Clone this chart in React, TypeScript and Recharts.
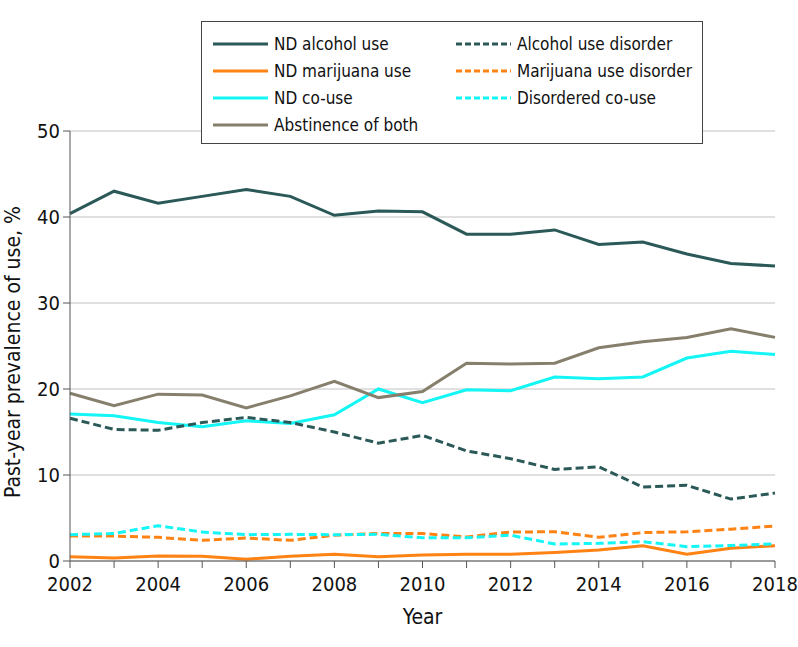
import { LineChart, Line, XAxis, YAxis, CartesianGrid, Legend } from 'recharts';

const years = [2002, 2003, 2004, 2005, 2006, 2007, 2008, 2009, 2010, 2011, 2012, 2013, 2014, 2015, 2016, 2017, 2018];

const ndAlcohol = [40.4, 43.0, 41.6, 42.4, 43.2, 42.4, 40.2, 40.7, 40.6, 38.0, 38.0, 38.5, 36.8, 37.1, 35.7, 34.6, 34.3];
const ndMarijuana = [0.5, 0.35, 0.58, 0.55, 0.2, 0.55, 0.78, 0.5, 0.7, 0.78, 0.78, 1.0, 1.28, 1.78, 0.8, 1.47, 1.78];
const ndCoUse = [17.1, 16.9, 16.1, 15.6, 16.3, 16.0, 17.0, 20.0, 18.4, 19.9, 19.8, 21.4, 21.2, 21.4, 23.6, 24.4, 24.0];
const abstinence = [19.5, 18.05, 19.4, 19.3, 17.8, 19.2, 20.9, 19.0, 19.7, 23.0, 22.9, 23.0, 24.8, 25.5, 26.0, 27.0, 26.0];
const alcoholDisorder = [16.6, 15.3, 15.2, 16.1, 16.7, 16.1, 15.0, 13.7, 14.6, 12.8, 11.9, 10.65, 10.95, 8.6, 8.8, 7.2, 7.9];
const marijuanaDisorder = [2.9, 2.9, 2.75, 2.4, 2.67, 2.4, 3.0, 3.2, 3.2, 2.8, 3.37, 3.4, 2.75, 3.3, 3.4, 3.7, 4.07];
const disorderedCoUse = [3.06, 3.2, 4.1, 3.37, 3.06, 3.1, 3.06, 3.1, 2.7, 2.7, 3.0, 1.97, 2.05, 2.25, 1.67, 1.8, 2.0];

const yTicks = [0, 10, 20, 30, 40, 50];

const FONT = "'DejaVu Sans Condensed', 'DejaVu Sans', sans-serif";

const series = [
  { key: 'ndAlcohol', name: 'ND alcohol use', color: '#2a5957', dash: undefined, values: ndAlcohol },
  { key: 'ndMarijuana', name: 'ND marijuana use', color: '#ff8214', dash: undefined, values: ndMarijuana },
  { key: 'ndCoUse', name: 'ND co-use', color: '#14f5f5', dash: undefined, values: ndCoUse },
  { key: 'abstinence', name: 'Abstinence of both', color: '#857f6c', dash: undefined, values: abstinence },
  { key: 'alcoholDisorder', name: 'Alcohol use disorder', color: '#2a5957', dash: '8 4', values: alcoholDisorder },
  { key: 'marijuanaDisorder', name: 'Marijuana use disorder', color: '#ff8214', dash: '8 4', values: marijuanaDisorder },
  { key: 'disorderedCoUse', name: 'Disordered co-use', color: '#14f5f5', dash: '8 4', values: disorderedCoUse },
];

const data = years.map((year, i) => {
  const row: Record<string, number> = { year };
  series.forEach((s) => {
    row[s.key] = s.values[i];
  });
  return row;
});

function LegendBox() {
  const left = series.slice(0, 4);
  const right = series.slice(4);
  const item = (s: typeof series[number], col: number, row: number) => (
    <div
      key={s.key}
      style={{ position: 'absolute', left: col === 0 ? 11 : 254, top: 8 + row * 27.3, height: 27, display: 'flex', alignItems: 'center' }}
    >
      <svg width={55} height={6} style={{ display: 'block' }}>
        <line x1={0} y1={3} x2={55} y2={3} stroke={s.color} strokeWidth={3} strokeDasharray={s.dash ? '6 3' : undefined} />
      </svg>
      <span style={{ marginLeft: 6, fontSize: 17, color: '#111', whiteSpace: 'nowrap' }}>{s.name}</span>
    </div>
  );
  return (
    <div style={{ position: 'relative', width: 502, height: 123, border: '1px solid #444', background: '#fff', fontFamily: FONT, boxSizing: 'border-box' }}>
      {left.map((s, i) => item(s, 0, i))}
      {right.map((s, i) => item(s, 1, i))}
    </div>
  );
}

export default function App() {
  return (
    <div style={{ position: 'absolute', left: 0, top: 0, width: 798, height: 647, background: '#fff' }}>
      <LineChart width={798} height={647} data={data} margin={{ top: 131, right: 23, bottom: 26, left: 0 }} style={{ fontFamily: FONT }}>
        <CartesianGrid vertical={false} stroke="#d6d6d6" strokeWidth={1.5} />
        <XAxis
          dataKey="year"
          type="number"
          domain={[2002, 2018]}
          ticks={years}
          interval={0}
          height={60}
          tickFormatter={(v: number) => (v % 2 === 0 ? String(v) : '')}
          stroke="#555"
          tickSize={7}
          tickMargin={9}
          tick={{ fill: '#111', fontSize: 20 }}
          label={{ value: 'Year', position: 'insideBottom', offset: -3, fill: '#111', fontSize: 21 }}
        />
        <YAxis
          domain={[0, 50]}
          ticks={yTicks}
          width={70}
          stroke="#555"
          tickSize={7}
          tickMargin={3}
          tick={{ fill: '#111', fontSize: 20 }}
          label={{ value: 'Past-year prevalence of use, %', angle: -90, position: 'center', dx: -22, dy: 6, fill: '#111', fontSize: 21 }}
        />
        <Legend
          layout="vertical"
          align="center"
          verticalAlign="middle"
          content={() => <LegendBox />}
          wrapperStyle={{ left: 201, top: 21, width: 502, height: 123 }}
        />
        {series.map((s) => (
          <Line
            key={s.key}
            type="linear"
            dataKey={s.key}
            name={s.name}
            stroke={s.color}
            strokeWidth={3}
            strokeDasharray={s.dash}
            dot={false}
            isAnimationActive={false}
          />
        ))}
      </LineChart>
    </div>
  );
}
